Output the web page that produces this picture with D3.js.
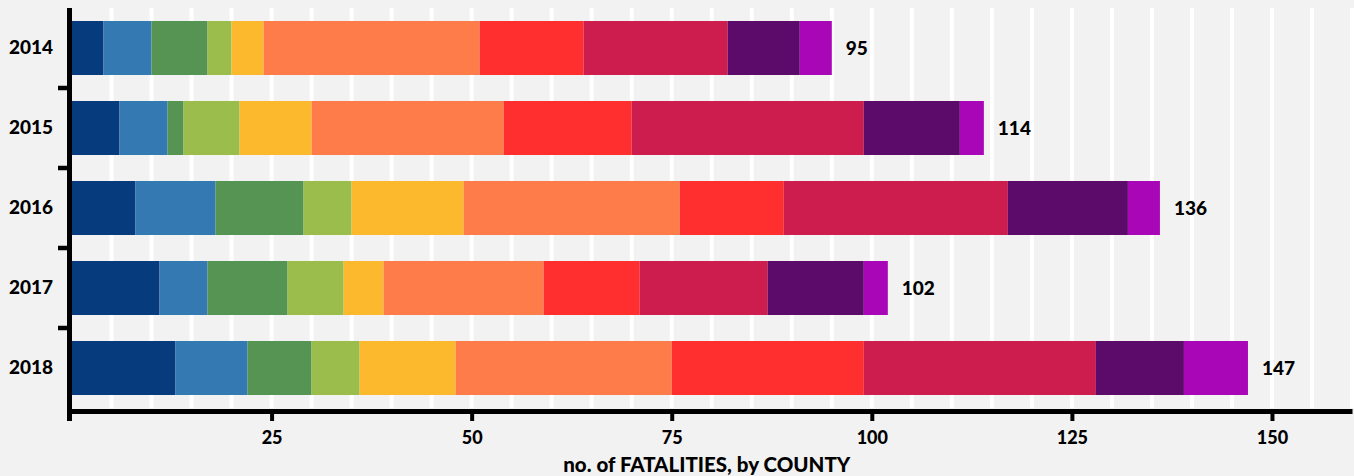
<!DOCTYPE html>
<html>
<head>
<meta charset="utf-8">
<script src="https://cdnjs.cloudflare.com/ajax/libs/d3/7.8.5/d3.min.js"></script>
<style>
  body { margin: 0; background: #f2f2f2; }
  #chart text { font-family: Lato, "Open Sans", sans-serif; fill: #000; }
</style>
</head>
<body>
<div id="chart"></div>
<script>
// years shown on the y axis
const years = ["2014", "2015", "2016", "2017", "2018"];

// one key per county segment (left to right in every bar)
const counties = ["county01", "county02", "county03", "county04", "county05",
                  "county06", "county07", "county08", "county09", "county10"];

// fatalities per county, one array per year
const fatal2014 = [4, 6, 7, 3, 4, 27, 13, 18, 9, 4];
const fatal2015 = [6, 6, 2, 7, 9, 24, 16, 29, 12, 3];
const fatal2016 = [8, 10, 11, 6, 14, 27, 13, 28, 15, 4];
const fatal2017 = [11, 6, 10, 7, 5, 20, 12, 16, 12, 3];
const fatal2018 = [13, 9, 8, 6, 12, 27, 24, 29, 11, 8];

const xTicks = [25, 50, 75, 100, 125, 150];

const colors = ["#063b7d", "#3579b3", "#569453", "#9bbd4c", "#fdb92d",
                "#fe7c4a", "#ff2f2f", "#cd1d4f", "#5c0b6a", "#a906b7"];

// build rows for d3.stack
const perYear = [fatal2014, fatal2015, fatal2016, fatal2017, fatal2018];
const rows = years.map((yr, i) => {
  const row = { year: yr, total: d3.sum(perYear[i]) };
  counties.forEach((c, j) => { row[c] = perYear[i][j]; });
  return row;
});

const margin = {top: 8, right: 2, bottom: 68, left: 71.5},
  width = 1354 - margin.left - margin.right,
  height = 476 - margin.top - margin.bottom;

const svg = d3.select("#chart")
  .append("svg")
  .attr("width", 1354)
  .attr("height", 476)
  .append("g")
  .attr("transform", `translate(${margin.left}, ${margin.top})`);

const x = d3.scaleLinear().domain([0, 160]).range([0, width]);
const y = d3.scaleBand().domain(years).range([0, height])
  .paddingInner(0.325).paddingOuter(0.1625);

// white vertical grid every 5
svg.append("g")
  .selectAll("line")
  .data(d3.range(5, 161, 5))
  .join("line")
  .attr("x1", d => x(d)).attr("x2", d => x(d))
  .attr("y1", 0).attr("y2", height)
  .attr("stroke", "#fff")
  .attr("stroke-width", 4);

// stacked bars
const stacked = d3.stack().keys(counties)(rows);
svg.append("g")
  .selectAll("g")
  .data(stacked)
  .join("g")
  .attr("fill", (d, i) => colors[i])
  .selectAll("rect")
  .data(d => d)
  .join("rect")
  .attr("x", d => x(d[0]))
  .attr("width", d => x(d[1]) - x(d[0]))
  .attr("y", d => y(d.data.year))
  .attr("height", y.bandwidth());

// totals
svg.append("g")
  .selectAll("text")
  .data(rows)
  .join("text")
  .attr("x", d => x(d.total) + 14)
  .attr("y", d => y(d.year) + y.bandwidth() / 2)
  .attr("dy", "0.35em")
  .style("font-size", "19px")
  .style("font-weight", 900)
  .text(d => d.total);

// x axis
const xAxis = svg.append("g")
  .attr("transform", `translate(0, ${height + 3})`)
  .call(d3.axisBottom(x).tickValues(xTicks).tickSize(10).tickSizeOuter(0).tickPadding(10));
xAxis.select(".domain").attr("stroke", "#000").attr("stroke-width", 5);
xAxis.selectAll(".tick line").attr("stroke", "#000").attr("stroke-width", 4);
xAxis.selectAll(".tick text")
  .style("font-size", "18px")
  .style("font-weight", 900);

// axis title
svg.append("text")
  .attr("x", width / 2 - 5)
  .attr("y", height + 64)
  .attr("text-anchor", "middle")
  .style("font-size", "20.5px")
  .style("font-weight", 900)
  .text("no. of FATALITIES, by COUNTY");

// y axis: labels at band centres, ticks between bands
const yAxis = svg.append("g")
  .call(d3.axisLeft(y).tickSize(0).tickPadding(18.5));
yAxis.select(".domain").remove();
yAxis.selectAll(".tick text")
  .style("font-size", "19px")
  .style("font-weight", 900);

const bounds = years.slice(1).map(yr => y(yr) - y.step() * y.paddingInner() / 2);
svg.append("g")
  .selectAll("line")
  .data(bounds)
  .join("line")
  .attr("x1", -13.5).attr("x2", -2)
  .attr("y1", d => d).attr("y2", d => d)
  .attr("stroke", "#000")
  .attr("stroke-width", 4.5);

svg.append("line")
  .attr("x1", -2).attr("x2", -2)
  .attr("y1", 0).attr("y2", height + 13)
  .attr("stroke", "#000")
  .attr("stroke-width", 5);
</script>
</body>
</html>
